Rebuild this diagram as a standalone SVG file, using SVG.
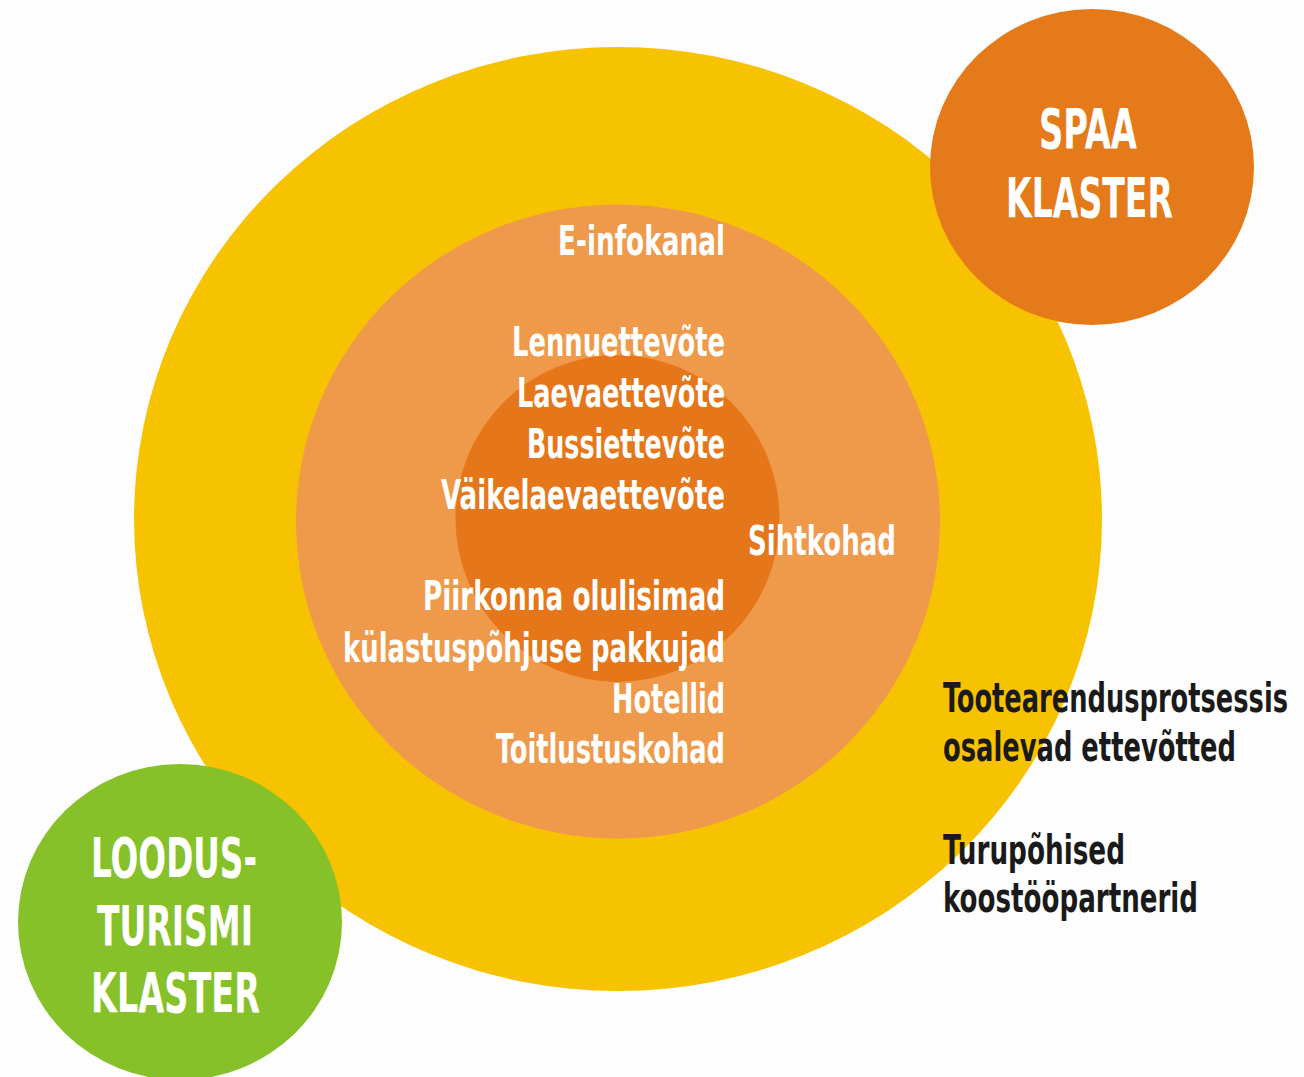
<svg xmlns="http://www.w3.org/2000/svg" width="1304" height="1077" viewBox="0 0 1304 1077">
<style>
.t{font-family:"DejaVu Sans Condensed","Liberation Sans Narrow","Liberation Sans",sans-serif;font-weight:bold;}
.w{fill:#ffffff;font-size:41px;}
.k{fill:#1a1a1a;font-size:40px;}
.big{fill:#ffffff;font-size:56px;}
</style>
<rect x="0" y="0" width="1304" height="1077" fill="#fdfdfd"/>
<g id="outer-ring">
<ellipse cx="618" cy="519" rx="484" ry="472" fill="#f7c300"/>
</g>
<g id="middle-ring">
<ellipse cx="618" cy="521.5" rx="322" ry="317" fill="#ef9a4a"/>
</g>
<g id="inner-core">
<ellipse cx="617.5" cy="518.5" rx="162" ry="163.5" fill="#e5771a"/>
</g>
<g id="spaa-klaster">
<ellipse cx="1092" cy="167" rx="162" ry="158" fill="#e57a1b"/>
<text class="t big" x="1039" y="148" textLength="98" lengthAdjust="spacingAndGlyphs">SPAA</text>
<text class="t big" x="1006" y="217" textLength="167" lengthAdjust="spacingAndGlyphs">KLASTER</text>
</g>
<g id="loodusturismi-klaster">
<ellipse cx="180" cy="922" rx="162" ry="158" fill="#86c12a"/>
<text class="t big" x="91" y="877" textLength="166" lengthAdjust="spacingAndGlyphs">LOODUS-</text>
<text class="t big" x="97" y="945" textLength="156" lengthAdjust="spacingAndGlyphs">TURISMI</text>
<text class="t big" x="91" y="1012" textLength="169" lengthAdjust="spacingAndGlyphs">KLASTER</text>
</g>
<g id="core-labels">
<text class="t w" x="558" y="255" textLength="167" lengthAdjust="spacingAndGlyphs">E-infokanal</text>
<text class="t w" x="512" y="356" textLength="213" lengthAdjust="spacingAndGlyphs">Lennuettevõte</text>
<text class="t w" x="517" y="407" textLength="208" lengthAdjust="spacingAndGlyphs">Laevaettevõte</text>
<text class="t w" x="527" y="458" textLength="198" lengthAdjust="spacingAndGlyphs">Bussiettevõte</text>
<text class="t w" x="441" y="509" textLength="284" lengthAdjust="spacingAndGlyphs">Väikelaevaettevõte</text>
<text class="t w" x="748" y="555" textLength="148" lengthAdjust="spacingAndGlyphs">Sihtkohad</text>
<text class="t w" x="423" y="610" textLength="302" lengthAdjust="spacingAndGlyphs">Piirkonna olulisimad</text>
<text class="t w" x="343" y="662" textLength="382" lengthAdjust="spacingAndGlyphs">külastuspõhjuse pakkujad</text>
<text class="t w" x="612" y="713" textLength="113" lengthAdjust="spacingAndGlyphs">Hotellid</text>
<text class="t w" x="496" y="763" textLength="229" lengthAdjust="spacingAndGlyphs">Toitlustuskohad</text>
</g>
<g id="outer-labels">
<text class="t k" x="943" y="712" textLength="345" lengthAdjust="spacingAndGlyphs">Tootearendusprotsessis</text>
<text class="t k" x="943" y="761" textLength="293" lengthAdjust="spacingAndGlyphs">osalevad ettevõtted</text>
<text class="t k" x="943" y="864" textLength="182" lengthAdjust="spacingAndGlyphs">Turupõhised</text>
<text class="t k" x="943" y="912" textLength="255" lengthAdjust="spacingAndGlyphs">koostööpartnerid</text>
</g>
<g id="connectors"/>
</svg>
